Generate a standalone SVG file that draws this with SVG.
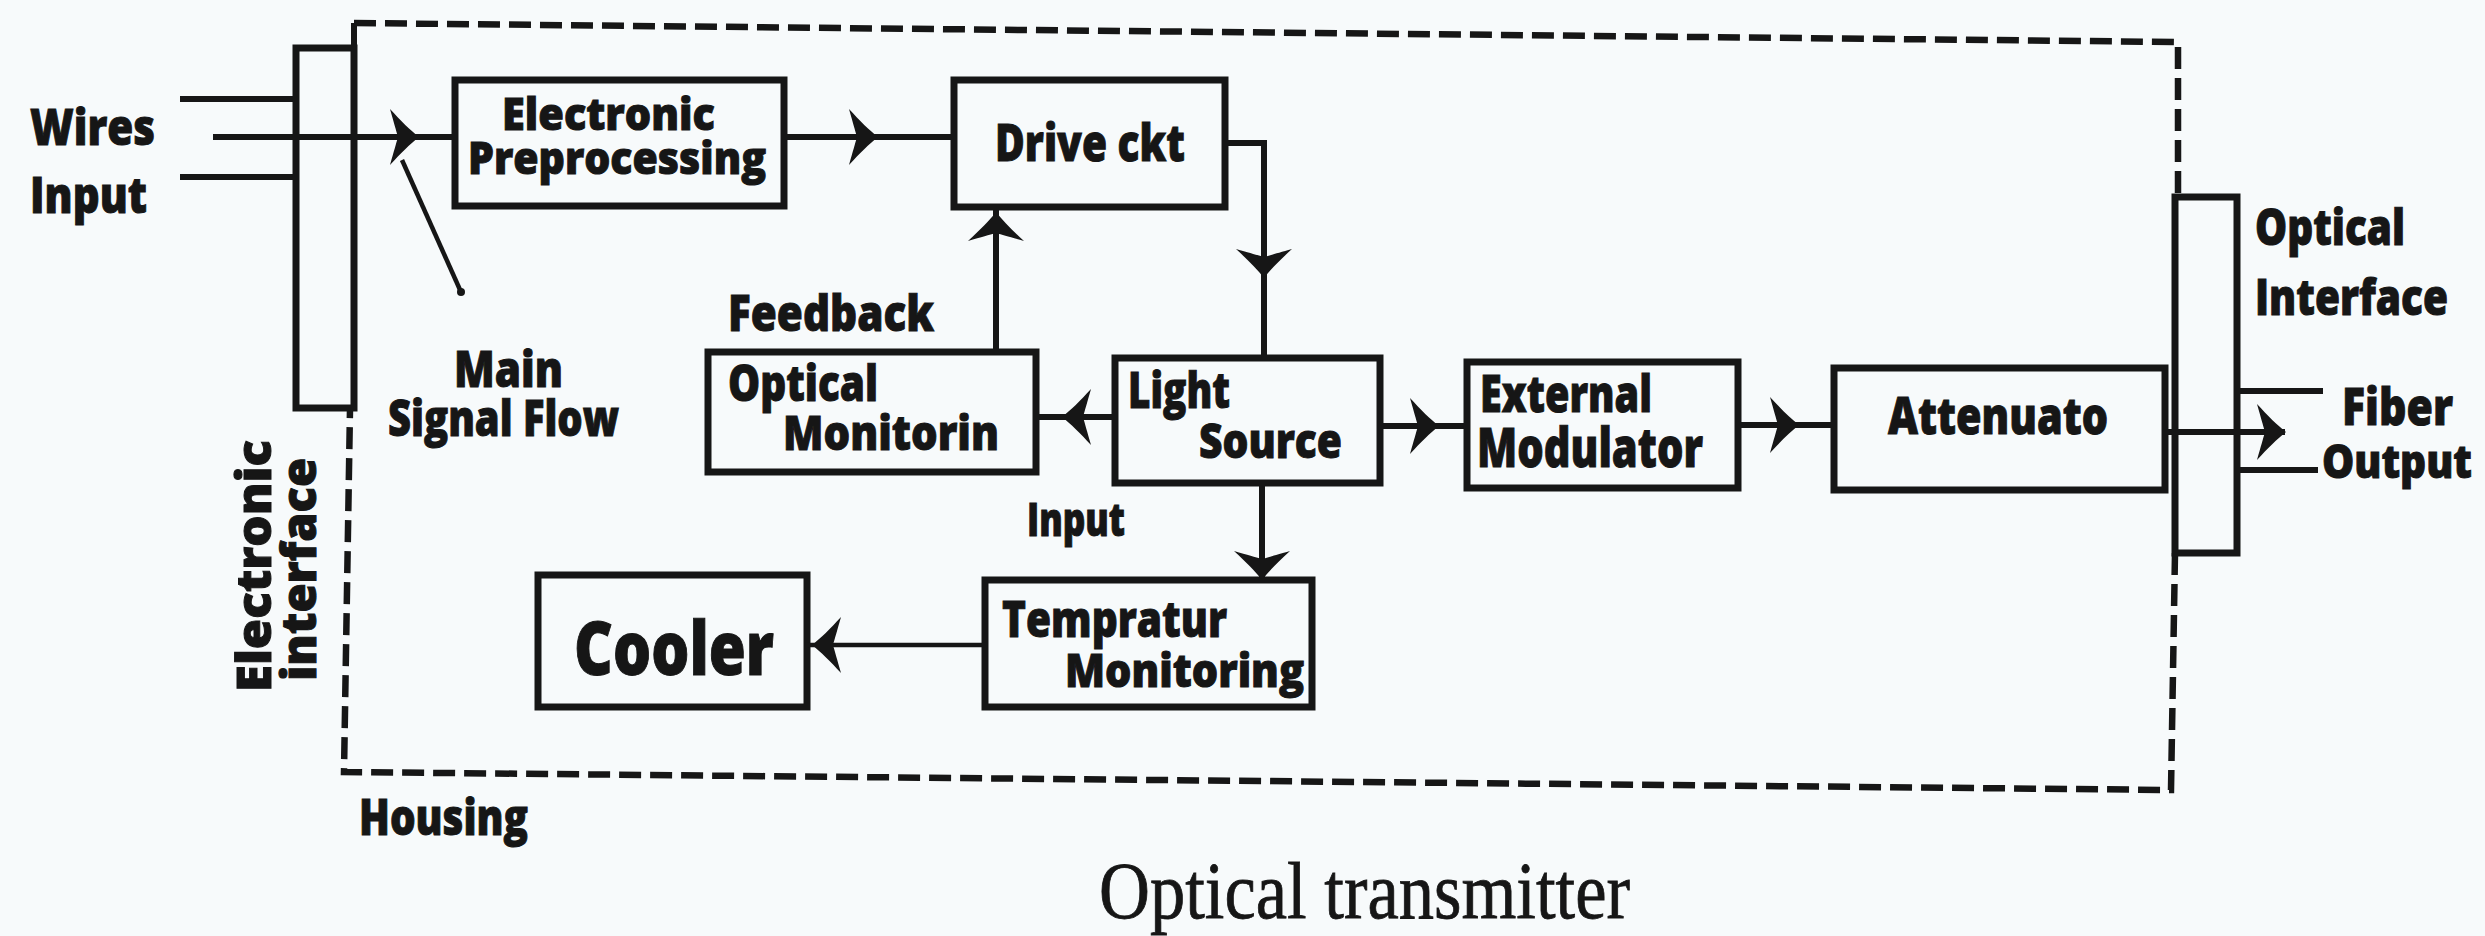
<svg xmlns="http://www.w3.org/2000/svg" width="2485" height="936" viewBox="0 0 2485 936">
<defs>
<style>
.bg{fill:#f7fafb}
.box{fill:none;stroke:#161616;stroke-width:7}
.ln{fill:none;stroke:#161616;stroke-width:6}
.thin{fill:none;stroke:#161616;stroke-width:4.5}
.dash{fill:none;stroke:#161616;stroke-width:6.5;stroke-dasharray:22 9}
.t{font-family:"Open Sans","Noto Sans","Liberation Sans",sans-serif;font-weight:800;fill:#161616;stroke:#161616;stroke-width:1}
.serif{font-family:"Liberation Serif","DejaVu Serif",serif;fill:#161616;stroke:#161616;stroke-width:0.8}
.ah{fill:#161616}
</style>
<path id="ah" d="M0,0 C-9,-7 -18,-16 -29,-28 C-25,-14 -23,-7 -21,0 C-23,7 -25,14 -29,28 C-18,16 -9,7 0,0 Z"/>
</defs>
<rect class="bg" x="0" y="0" width="2485" height="936"/>

<g id="housing">
<path class="ln" d="M354,48 L354,23"/>
<path class="dash" d="M354,23 L2178,42 L2178,197"/>
<path class="dash" d="M2175,553 L2171,790 L344,772 L350,409"/>
<text class="t" x="359" y="835" font-size="50" textLength="169" lengthAdjust="spacingAndGlyphs">Housing</text>
</g>

<g id="electronic-interface">
<rect class="box" x="296" y="48" width="58" height="360"/>
<text class="t" font-size="48" transform="translate(271,692) rotate(-90)" textLength="252" lengthAdjust="spacingAndGlyphs">Electronic</text>
<text class="t" font-size="48" transform="translate(316,681) rotate(-90)" textLength="223" lengthAdjust="spacingAndGlyphs">interface</text>
</g>

<g id="wires-input">
<text class="t" x="30" y="145" font-size="49" textLength="125" lengthAdjust="spacingAndGlyphs">Wires</text>
<text class="t" x="30" y="213" font-size="50" textLength="117" lengthAdjust="spacingAndGlyphs">Input</text>
<path class="ln" d="M180,99 H296 M180,177 H296"/>
</g>

<g id="main-signal-flow">
<text class="t" x="454" y="387" font-size="50" textLength="109" lengthAdjust="spacingAndGlyphs">Main</text>
<text class="t" x="388" y="436" font-size="50" textLength="231" lengthAdjust="spacingAndGlyphs">Signal Flow</text>
</g>

<g id="electronic-preprocessing">
<rect class="box" x="455" y="80" width="329" height="126"/>
<text class="t" x="502" y="130" font-size="44" textLength="213" lengthAdjust="spacingAndGlyphs">Electronic</text>
<text class="t" x="468" y="174" font-size="44" textLength="298" lengthAdjust="spacingAndGlyphs">Preprocessing</text>
</g>

<g id="drive-ckt">
<rect class="box" x="954" y="80" width="271" height="127"/>
<text class="t" x="995" y="161" font-size="52" textLength="190" lengthAdjust="spacingAndGlyphs">Drive ckt</text>
</g>

<g id="feedback-label">
<text class="t" x="728" y="331" font-size="50" textLength="206" lengthAdjust="spacingAndGlyphs">Feedback</text>
</g>

<g id="optical-monitorin">
<rect class="box" x="708" y="352" width="328" height="120"/>
<text class="t" x="728" y="401" font-size="50" textLength="150" lengthAdjust="spacingAndGlyphs">Optical</text>
<text class="t" x="783" y="450" font-size="48" textLength="216" lengthAdjust="spacingAndGlyphs">Monitorin</text>
</g>

<g id="light-source">
<rect class="box" x="1115" y="358" width="265" height="125"/>
<text class="t" x="1128" y="408" font-size="50" textLength="102" lengthAdjust="spacingAndGlyphs">Light</text>
<text class="t" x="1199" y="458" font-size="48" textLength="143" lengthAdjust="spacingAndGlyphs">Source</text>
</g>

<g id="input-label">
<text class="t" x="1027" y="536" font-size="46" textLength="98" lengthAdjust="spacingAndGlyphs">Input</text>
</g>

<g id="external-modulator">
<rect class="box" x="1467" y="362" width="271" height="126"/>
<text class="t" x="1480" y="412" font-size="52" textLength="172" lengthAdjust="spacingAndGlyphs">External</text>
<text class="t" x="1477" y="467" font-size="54" textLength="226" lengthAdjust="spacingAndGlyphs">Modulator</text>
</g>

<g id="attenuato">
<rect class="box" x="1834" y="368" width="331" height="122"/>
<text class="t" x="1888" y="434" font-size="52" textLength="220" lengthAdjust="spacingAndGlyphs">Attenuato</text>
</g>

<g id="optical-interface">
<rect class="box" x="2175" y="197" width="62" height="356"/>
<text class="t" x="2255" y="245" font-size="49" textLength="150" lengthAdjust="spacingAndGlyphs">Optical</text>
<text class="t" x="2255" y="315" font-size="49" textLength="193" lengthAdjust="spacingAndGlyphs">Interface</text>
</g>

<g id="fiber-output">
<path class="ln" d="M2237,391 H2323 M2237,470 H2318"/>
<text class="t" x="2342" y="425" font-size="52" textLength="111" lengthAdjust="spacingAndGlyphs">Fiber</text>
<text class="t" x="2472" y="478" font-size="46" text-anchor="end" textLength="150" lengthAdjust="spacingAndGlyphs">Output</text>
</g>

<g id="temprature-monitoring">
<rect class="box" x="985" y="580" width="327" height="127"/>
<text class="t" x="1002" y="637" font-size="50" textLength="225" lengthAdjust="spacingAndGlyphs">Tempratur</text>
<text class="t" x="1065" y="687" font-size="46" textLength="239" lengthAdjust="spacingAndGlyphs">Monitoring</text>
</g>

<g id="cooler">
<rect class="box" x="538" y="575" width="269" height="132"/>
<text class="t" x="574" y="675" font-size="74" textLength="200" lengthAdjust="spacingAndGlyphs">Cooler</text>
</g>

<g id="title">
<text class="serif" x="1099" y="918" font-size="80" textLength="531" lengthAdjust="spacingAndGlyphs">Optical transmitter</text>
</g>

<g id="connectors">
<path class="ln" d="M213,137 H455"/>
<path class="thin" d="M402,160 L461,292"/>
<circle class="ah" cx="461" cy="292" r="4"/>
<path class="ln" d="M784,137 H954"/>
<path class="ln" d="M1225,143 H1264 V358"/>
<path class="ln" d="M996,352 V207"/>
<path class="ln" d="M1115,417 H1036"/>
<path class="ln" d="M1380,426 H1467"/>
<path class="ln" d="M1738,425 H1834"/>
<path class="ln" d="M2165,432 H2285"/>
<path class="ln" d="M1262,483 V580"/>
<path class="thin" d="M985,645 H807"/>
<use href="#ah" class="ah" transform="translate(419,137)"/>
<use href="#ah" class="ah" transform="translate(878,137)"/>
<use href="#ah" class="ah" transform="translate(1264,278) rotate(90)"/>
<use href="#ah" class="ah" transform="translate(996,212) rotate(-90)"/>
<use href="#ah" class="ah" transform="translate(1062,417) rotate(180)"/>
<use href="#ah" class="ah" transform="translate(1439,426)"/>
<use href="#ah" class="ah" transform="translate(1799,425)"/>
<use href="#ah" class="ah" transform="translate(2286,432)"/>
<use href="#ah" class="ah" transform="translate(1262,580) rotate(90)"/>
<use href="#ah" class="ah" transform="translate(812,645) rotate(180)"/>
</g>
</svg>
